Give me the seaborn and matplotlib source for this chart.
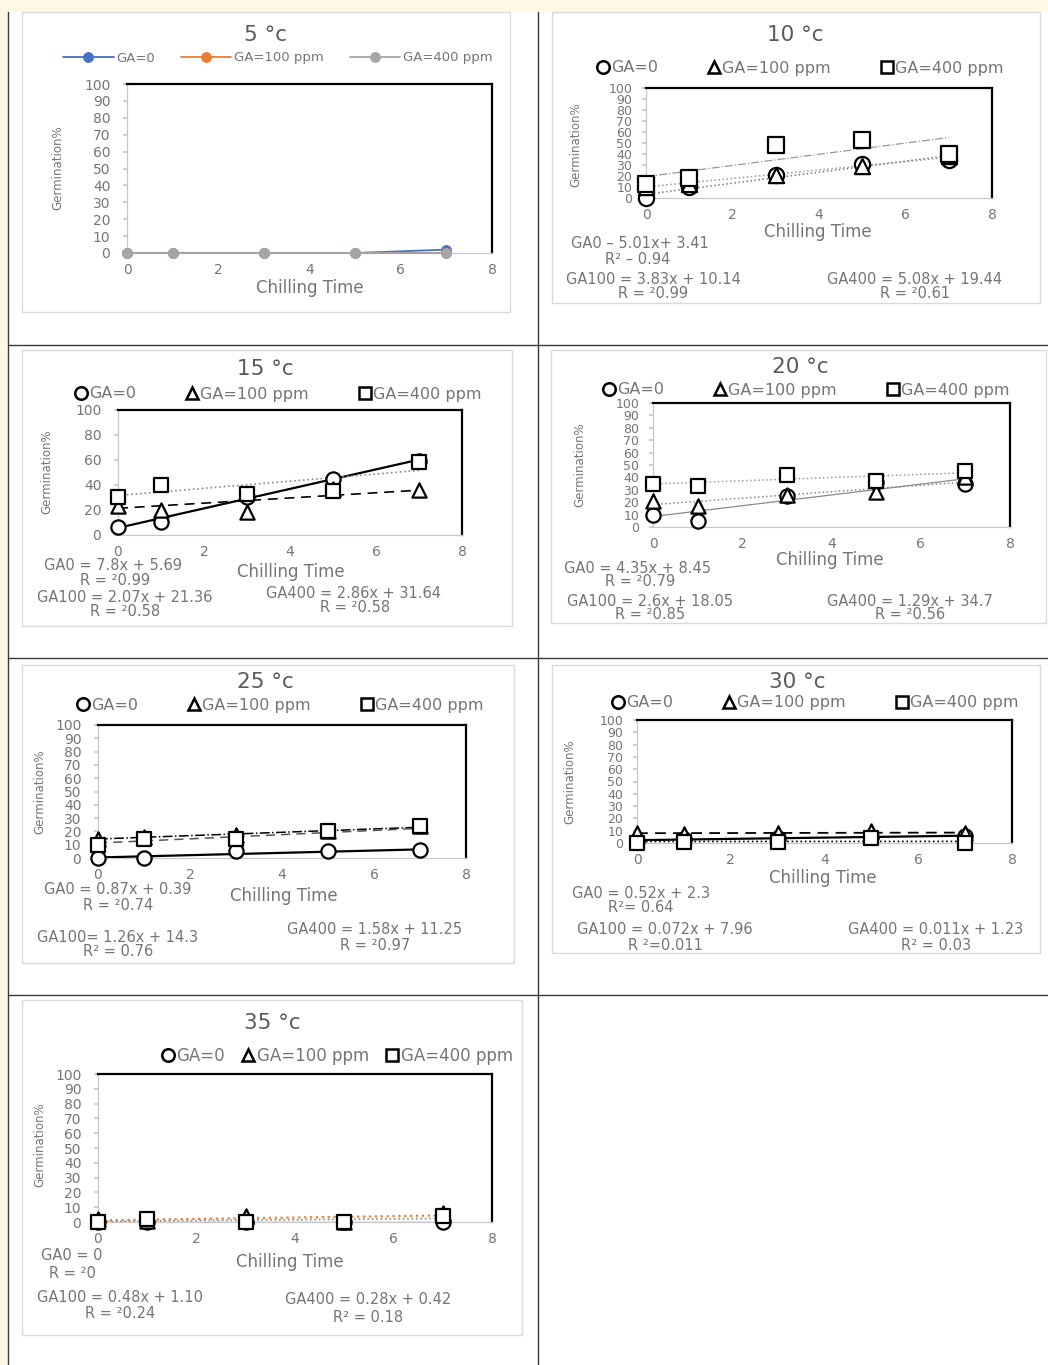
import matplotlib.pyplot as plt
import seaborn as sns
from matplotlib.lines import Line2D
from matplotlib.patches import Rectangle

sns.set_theme(style="white")
plt.rcParams['font.family'] = ['DejaVu Sans']

W, H = 1048, 1365
GREY_TXT = '#757575'

# ---- data ----
chill = [0, 1, 3, 5, 7]
labels = ["GA=0", "GA=100 ppm", "GA=400 ppm"]

# 5 C : plain line charts
t5_ga0 = [0, 0, 0, 0, 2]
t5_ga100 = [0, 0, 0, 0, 0]
t5_ga400 = [0, 0, 0, 0, 0]

t10_ga0 = [0, 10, 21, 31, 35]
t10_ga100 = [10, 13, 21, 29, 38]
t10_ga400 = [13, 18, 48, 53, 40]
t10_slope = [5.01, 3.83, 5.08]
t10_icept = [3.41, 10.14, 19.44]

t15_ga0 = [6, 10, 30, 45, 59]
t15_ga100 = [23, 20, 18, 37, 36]
t15_ga400 = [30, 40, 33, 35, 58]
t15_slope = [7.8, 2.07, 2.86]
t15_icept = [5.69, 21.36, 31.64]

t20_ga0 = [10, 5, 25, 36, 35]
t20_ga100 = [21, 17, 26, 28, 40]
t20_ga400 = [35, 33, 42, 37, 45]
t20_slope = [4.35, 2.6, 1.29]
t20_icept = [8.45, 18.05, 34.7]

t25_ga0 = [0, 0, 5, 5, 6]
t25_ga100 = [14, 16, 17, 20, 24]
t25_ga400 = [10, 14, 14, 20, 24]
t25_slope = [0.87, 1.26, 1.58]
t25_icept = [0.39, 14.3, 11.25]

t30_ga0 = [2, 3, 4, 5, 6]
t30_ga100 = [8, 7, 8, 10, 8]
t30_ga400 = [0, 1, 1, 4, 0]
t30_slope = [0.52, 0.072, 0.011]
t30_icept = [2.3, 7.96, 1.23]

t35_ga0 = [0, 0, 0, 0, 0]
t35_ga100 = [2, 1, 4, 0, 6]
t35_ga400 = [0, 2, 0, 0, 4]
t35_slope = [0.0, 0.48, 0.28]
t35_icept = [0.0, 1.10, 0.42]

t10_eq = ["GA0 – 5.01x+ 3.41", "R² – 0.94", "GA100 = 3.83x + 10.14", "R = ²0.99",
          "GA400 = 5.08x + 19.44", "R = ²0.61"]
t15_eq = ["GA0 = 7.8x + 5.69", "R = ²0.99", "GA100 = 2.07x + 21.36", "R = ²0.58",
          "GA400 = 2.86x + 31.64", "R = ²0.58"]
t20_eq = ["GA0 = 4.35x + 8.45", "R = ²0.79", "GA100 = 2.6x + 18.05", "R = ²0.85",
          "GA400 = 1.29x + 34.7", "R = ²0.56"]
t25_eq = ["GA0 = 0.87x + 0.39", "R = ²0.74", "GA100= 1.26x + 14.3", "R² = 0.76",
          "GA400 = 1.58x + 11.25", "R = ²0.97"]
t30_eq = ["GA0 = 0.52x + 2.3", "R²= 0.64", "GA100 = 0.072x + 7.96", "R ²=0.011",
          "GA400 = 0.011x + 1.23", "R² = 0.03"]
t35_eq = ["GA0 = 0", "R = ²0", "GA100 = 0.48x + 1.10", "R = ²0.24",
          "GA400 = 0.28x + 0.42", "R² = 0.18"]

fig = plt.figure(figsize=(W / 100, H / 100), dpi=100, facecolor='#FFF8E4')


def fx(x):
    return x / W


def fy(y):
    return 1 - y / H


def ftext(x, y, s, **kw):
    kw.setdefault('ha', 'center')
    kw.setdefault('va', 'center')
    kw.setdefault('color', GREY_TXT)
    fig.text(fx(x), fy(y), s, zorder=5, **kw)


def px_axes(l, t, r, b):
    a = fig.add_axes([fx(l), fy(b), (r - l) / W, (b - t) / H])
    a.set_zorder(3)
    return a


# table background and grid
fig.add_artist(Rectangle((fx(8), 0), 1 - fx(8), fy(12), transform=fig.transFigure,
                         facecolor='white', edgecolor='none', zorder=-3))
for x in [8, 538]:
    fig.add_artist(Line2D([fx(x), fx(x)], [fy(12), 0], color='#3A3A3A', lw=1.0, zorder=-1))
for y in [345, 658, 995]:
    fig.add_artist(Line2D([fx(8), 1], [fy(y), fy(y)], color='#3A3A3A', lw=1.0, zorder=-1))

# light chart frames
for l, t, r, b in [(22, 12, 510, 312), (552, 12, 1040, 303), (22, 350, 512, 626),
                   (551, 350, 1046, 623), (22, 665, 514, 963), (552, 665, 1040, 953),
                   (22, 1000, 522, 1335)]:
    fig.add_artist(Rectangle((fx(l), fy(b)), (r - l) / W, (b - t) / H,
                             transform=fig.transFigure, facecolor='white',
                             edgecolor='#DADADA', lw=1.0, zorder=-2))


def style_axes(ax, ystep, ysize=10):
    ax.set_xlim(0, 8)
    ax.set_ylim(0, 100)
    ax.set_xticks(range(0, 9, 2))
    ax.set_yticks(range(0, 101, ystep))
    ax.set_xlabel('')
    ax.set_ylabel('')
    for s in ['top', 'right']:
        ax.spines[s].set_color('black')
        ax.spines[s].set_linewidth(1.6)
    for s in ['left', 'bottom']:
        ax.spines[s].set_color('#C8C8C8')
        ax.spines[s].set_linewidth(0.9)
    ax.tick_params(axis='y', left=True, length=3, color='#C8C8C8', pad=9,
                   labelsize=ysize, labelcolor=GREY_TXT)
    ax.tick_params(axis='x', bottom=False, length=0, pad=7, labelsize=10,
                   labelcolor=GREY_TXT)
    ax.set_facecolor('white')


markers = ['o', '^', 's']
open_handles = [Line2D([], [], marker=m, ls='none', mfc='white', mec='black',
                       mew=1.8, ms=9) for m in markers]


def scatter_panel(ax, series, size=105):
    for vals, m in zip(series, markers):
        sns.scatterplot(x=chill, y=vals, marker=m, s=size, facecolor='white',
                        edgecolor='black', linewidth=1.6, ax=ax, zorder=4,
                        clip_on=False)


def trend_panel(ax, slopes, icepts, styles):
    for m, b, (ls, col, lw) in zip(slopes, icepts, styles):
        sns.lineplot(x=[0, 7], y=[b, m * 7 + b], ax=ax, color=col, lw=lw,
                     linestyle=ls, zorder=3)


def legend_open(ax, cx, cy, spacing=3.1, size=11.5):
    ax.legend(open_handles, labels, loc='center', ncol=3, frameon=False,
              bbox_to_anchor=(fx(cx), fy(cy)), bbox_transform=fig.transFigure,
              fontsize=size, handlelength=0.8, handletextpad=0.1,
              columnspacing=spacing, labelcolor=GREY_TXT)


def equations(eqs, pos):
    for s, (x, y) in zip(eqs, pos):
        ftext(x, y, s, fontsize=10.5)


def panel_text(title, tpos, xlpos, ylpos):
    ftext(*tpos, title, fontsize=15.5, color='#5A5A5A')
    ftext(*xlpos, "Chilling Time", fontsize=12)
    ftext(*ylpos, "Germination%", fontsize=8.5, rotation=90)


# ---- 5 C ----
ax = px_axes(127, 84, 492, 253)
for vals, col, lab in zip([t5_ga0, t5_ga100, t5_ga400],
                          ['#4472C4', '#ED7D31', '#A5A5A5'], labels):
    sns.lineplot(x=chill, y=vals, ax=ax, color=col, marker='o', markersize=7,
                 markeredgecolor=col, lw=1.3, label=lab, clip_on=False, zorder=3)
style_axes(ax, 10)
ax.legend(loc='center', ncol=3, frameon=False, bbox_to_anchor=(fx(278), fy(58)),
          bbox_transform=fig.transFigure, fontsize=9.5, handlelength=3.8,
          handletextpad=0.2, columnspacing=2.0, labelcolor=GREY_TXT)
panel_text("5 °c", (265, 35), (310, 288), (58, 168))

# ---- 10 C ----
ax = px_axes(646, 88, 992, 198)
trend_panel(ax, t10_slope, t10_icept,
            [(':', '#7A7A7A', 1.1), (':', '#9A9A9A', 1.1), ('-.', '#9A9A9A', 0.9)])
scatter_panel(ax, [t10_ga0, t10_ga100, t10_ga400], size=120)
style_axes(ax, 10, ysize=9)
ax.tick_params(axis='y', pad=7)
legend_open(ax, 800, 68)
panel_text("10 °c", (795, 35), (818, 232), (576, 145))
equations(t10_eq, [(640, 244), (638, 259), (653, 279), (653, 293), (915, 279), (915, 293)])

# ---- 15 C ----
ax = px_axes(118, 410, 462, 535)
trend_panel(ax, t15_slope, t15_icept,
            [('-', 'black', 1.6), ((0, (6, 4)), 'black', 1.2), (':', '#8A8A8A', 1.2)])
scatter_panel(ax, [t15_ga0, t15_ga100, t15_ga400])
style_axes(ax, 20)
legend_open(ax, 278, 394)
panel_text("15 °c", (265, 369), (291, 572), (47, 472))
equations(t15_eq, [(113, 565), (115, 580), (125, 597), (125, 612), (353, 593), (355, 608)])

# ---- 20 C ----
ax = px_axes(653, 403, 1010, 527)
trend_panel(ax, t20_slope, t20_icept,
            [('-', '#8A8A8A', 0.9), (':', '#8A8A8A', 1.1), (':', '#9A9A9A', 1.1)])
scatter_panel(ax, [t20_ga0, t20_ga100, t20_ga400])
style_axes(ax, 10, ysize=9)
ax.tick_params(axis='y', pad=7)
legend_open(ax, 806, 390)
panel_text("20 °c", (800, 367), (830, 560), (580, 465))
equations(t20_eq, [(638, 568), (640, 582), (650, 602), (650, 615), (910, 602), (910, 615)])

# ---- 25 C ----
ax = px_axes(98, 725, 466, 858)
trend_panel(ax, t25_slope, t25_icept,
            [('-', 'black', 1.6), ('-.', 'black', 1.1), ((0, (6, 4)), '#555555', 1.1)])
scatter_panel(ax, [t25_ga0, t25_ga100, t25_ga400])
style_axes(ax, 10)
legend_open(ax, 280, 705)
panel_text("25 °c", (265, 682), (284, 896), (40, 792))
equations(t25_eq, [(118, 890), (118, 906), (118, 937), (118, 952), (375, 929), (375, 945)])

# ---- 30 C ----
ax = px_axes(637, 720, 1012, 843)
trend_panel(ax, t30_slope, t30_icept,
            [('-', 'black', 1.6), ((0, (6, 4)), 'black', 1.3), (':', 'black', 1.2)])
scatter_panel(ax, [t30_ga0, t30_ga100, t30_ga400])
style_axes(ax, 10, ysize=9)
ax.tick_params(axis='y', pad=7)
legend_open(ax, 815, 703)
panel_text("30 °c", (797, 682), (823, 878), (570, 782))
equations(t30_eq, [(641, 893), (641, 908), (665, 929), (665, 945), (936, 929), (936, 945)])

# ---- 35 C ----
ax = px_axes(98, 1074, 492, 1222)
trend_panel(ax, t35_slope, t35_icept,
            [('-', '#9A9A9A', 1.0), (':', '#ED7D31', 1.6), (':', '#8A8A8A', 1.2)])
scatter_panel(ax, [t35_ga0, t35_ga100, t35_ga400])
style_axes(ax, 10)
legend_open(ax, 337, 1056, spacing=1.0, size=12)
panel_text("35 °c", (272, 1023), (290, 1262), (40, 1145))
equations(t35_eq, [(72, 1256), (72, 1273), (120, 1297), (120, 1313), (368, 1299), (368, 1317)])

fig.savefig("out.png", dpi=100, facecolor=fig.get_facecolor())
